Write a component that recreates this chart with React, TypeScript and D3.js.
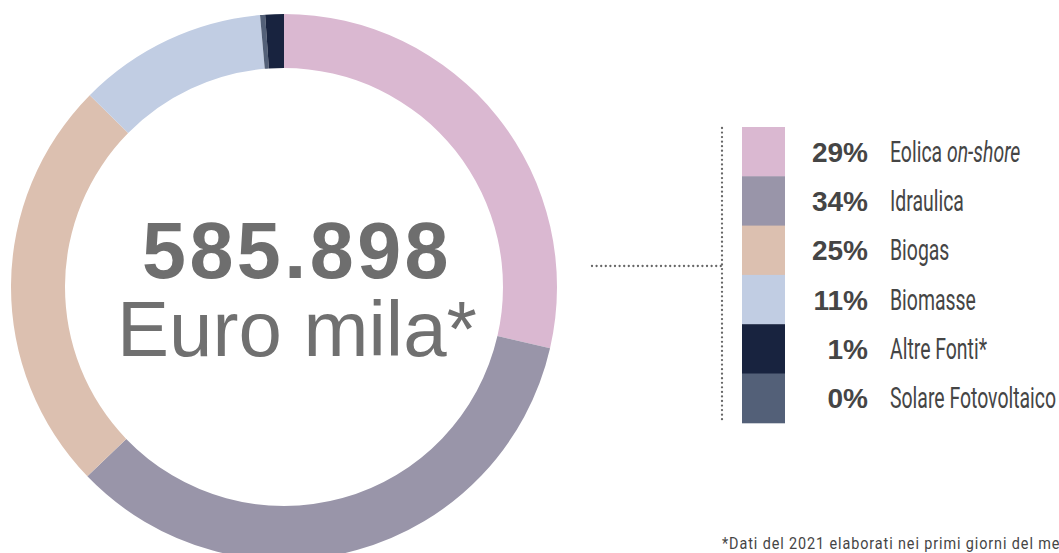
import React from "react";
import * as d3 from "d3";

const categories = ["Eolica on-shore", "Idraulica", "Biogas", "Biomasse", "Altre Fonti*", "Solare Fotovoltaico"];
const shares = [28.6, 34.2, 24.6, 11.2, 1.1, 0.3];
const colors = ["#dab8d1", "#9995a9", "#dcc0b0", "#c1cde3", "#18233f", "#536078"];
const ringOrder = ["Eolica on-shore", "Idraulica", "Biogas", "Biomasse", "Solare Fotovoltaico", "Altre Fonti*"];
const totalLabel = "585.898";
const unitLabel = "Euro mila*";
const footnote = "*Dati del 2021 elaborati nei primi giorni del me";

const W = 1059;
const H = 553;

export default function App() {
  const cx = 284, cy = 287, rOuter = 273, rInner = 219;
  const data = ringOrder.map((n) => {
    const i = categories.indexOf(n);
    return { name: n, value: shares[i], color: colors[i] };
  });
  const pie = d3.pie<any>().sort(null).value((d) => d.value).startAngle(0).endAngle(2 * Math.PI);
  const arc = d3.arc<any>().innerRadius(rInner).outerRadius(rOuter);
  const arcs = pie(data);

  const legendTop = 127, rowH = 49.3;
  const y = d3.scaleBand<string>().domain(categories).range([legendTop, legendTop + rowH * categories.length]).padding(0);
  const swX = 742, swW = 43;
  const pctX = 868, labX = 890;
  const sx = 0.67;

  return (
    <svg width={W} height={H} style={{ position: "absolute", left: 0, top: 0, display: "block", overflow: "hidden" }}>
      <rect width={W} height={H} fill="#ffffff" />
      <g transform={`translate(${cx},${cy})`}>
        {arcs.map((a, i) => (
          <path key={i} d={arc(a) as string} fill={a.data.color} />
        ))}
      </g>
      <text x={297} y={278} textAnchor="middle" fontFamily="'Liberation Sans', Arial, sans-serif" fontWeight="bold" fontSize={79} letterSpacing={3.5} fill="#6e6e6e">
        {totalLabel}
      </text>
      <text x={297} y={356} textAnchor="middle" fontFamily="'Liberation Sans', Arial, sans-serif" fontSize={78} fill="#707070">
        {unitLabel}
      </text>
      {/* dotted connectors */}
      <line x1={592} x2={722} y1={266} y2={266} stroke="#666666" strokeWidth={2.3} strokeDasharray="0 4.6" strokeLinecap="round" />
      <line x1={722} x2={722} y1={128} y2={421} stroke="#666666" strokeWidth={2.3} strokeDasharray="0 4.55" strokeLinecap="round" />
      {categories.map((c, i) => {
        const y0 = y(c) as number;
        const mid = y0 + y.bandwidth() / 2;
        const pct = Math.round(shares[i]) + "%";
        const isEolica = c.startsWith("Eolica");
        return (
          <g key={c}>
            <rect x={swX} y={y0} width={swW} height={y.bandwidth() + 0.5} fill={colors[i]} />
            <text transform={`translate(${pctX},${mid + 10})`} textAnchor="end" fontFamily="'Liberation Sans', Arial, sans-serif" fontWeight="bold" fontSize={28} fill="#454545">
              {pct}
            </text>
            <text transform={`translate(${labX},${mid + 10}) scale(${sx},1)`} fontFamily="Roboto, sans-serif" fontSize={29} fill="#454545">
              {isEolica ? (
                <>
                  <tspan>Eolica </tspan>
                  <tspan fontStyle="italic">on-shore</tspan>
                </>
              ) : (
                c
              )}
            </text>
          </g>
        );
      })}
      <text transform={`translate(722,549) scale(0.9,1)`} fontFamily="Roboto, sans-serif" fontSize={16} letterSpacing={1} fill="#454545">
        {footnote}
      </text>
    </svg>
  );
}
